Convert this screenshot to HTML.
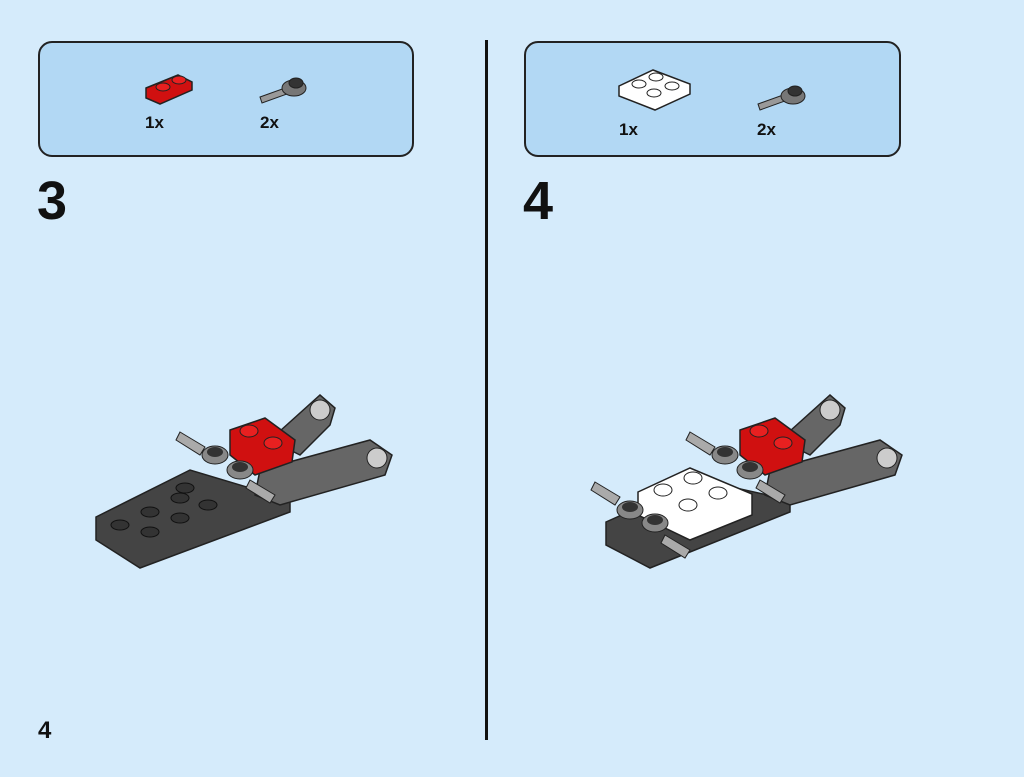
<!DOCTYPE html>
<html><head><meta charset="utf-8"><style>
html,body{margin:0;padding:0;}
body{width:1024px;height:777px;background:#d5ebfb;position:relative;overflow:hidden;font-family:"Liberation Sans",sans-serif;}
.panel{position:absolute;background:#b2d8f4;border:2px solid #222;border-radius:14px;box-sizing:border-box;}
.lbl{position:absolute;font-weight:bold;font-size:17px;color:#111;}
.step{position:absolute;font-weight:bold;font-size:54px;color:#111;}
</style></head><body>
<div class="panel" style="left:38px;top:41px;width:376px;height:116px"></div>
<div class="panel" style="left:524px;top:41px;width:377px;height:116px"></div>
<div style="position:absolute;left:485px;top:40px;width:3px;height:700px;background:#111"></div>
<div class="lbl" style="left:145px;top:113px">1x</div>
<div class="lbl" style="left:260px;top:113px">2x</div>
<div class="lbl" style="left:619px;top:120px">1x</div>
<div class="lbl" style="left:757px;top:120px">2x</div>
<div class="step" style="left:37px;top:170px">3</div>
<div class="step" style="left:523px;top:170px">4</div>
<div class="lbl" style="left:38px;top:717px;font-size:24px">4</div>
<svg width="1024" height="777" style="position:absolute;left:0;top:0">
<g>
<path d="M146 88 L178 75 L192 82 L192 90 L160 104 L146 98Z" fill="#d01010" stroke="#222" stroke-width="1.5"/>
<ellipse cx="163" cy="87" rx="7" ry="4" fill="#e82020" stroke="#222"/><ellipse cx="179" cy="80" rx="7" ry="4" fill="#e82020" stroke="#222"/>
</g>
<g>
<path d="M260 97 L285 88 L287 94 L262 103Z" fill="#999" stroke="#222"/>
<ellipse cx="294" cy="88" rx="12" ry="8" fill="#777" stroke="#222"/><ellipse cx="296" cy="83" rx="7" ry="5" fill="#333" stroke="#222"/>
</g>
<g>
<path d="M619 86 L653 70 L690 84 L690 94 L655 110 L619 96Z" fill="#fff" stroke="#222" stroke-width="1.5"/>
<ellipse cx="639" cy="84" rx="7" ry="4" fill="#fff" stroke="#222"/><ellipse cx="656" cy="77" rx="7" ry="4" fill="#fff" stroke="#222"/>
<ellipse cx="654" cy="93" rx="7" ry="4" fill="#fff" stroke="#222"/><ellipse cx="672" cy="86" rx="7" ry="4" fill="#fff" stroke="#222"/>
</g>
<g>
<path d="M758 104 L783 95 L785 101 L760 110Z" fill="#999" stroke="#222"/>
<ellipse cx="793" cy="96" rx="12" ry="8" fill="#777" stroke="#222"/><ellipse cx="795" cy="91" rx="7" ry="5" fill="#333" stroke="#222"/>
</g>
<g>
<path d="M96 517 L190 470 L290 500 L290 512 L140 568 L96 540Z" fill="#444" stroke="#222" stroke-width="1.5"/>
<path d="M270 440 L320 395 L335 408 L330 425 L300 455Z" fill="#666" stroke="#222" stroke-width="1.5"/>
<path d="M260 470 L370 440 L392 455 L385 475 L280 505 L255 495Z" fill="#666" stroke="#222" stroke-width="1.5"/>
<circle cx="320" cy="410" r="10" fill="#ccc" stroke="#222"/><circle cx="377" cy="458" r="10" fill="#ccc" stroke="#222"/>
<path d="M230 430 L265 418 L295 440 L292 462 L255 475 L230 455Z" fill="#d01010" stroke="#222" stroke-width="1.5"/>
<ellipse cx="249" cy="431" rx="9" ry="6" fill="#e82020" stroke="#222"/><ellipse cx="273" cy="443" rx="9" ry="6" fill="#e82020" stroke="#222"/>
<ellipse cx="215" cy="455" rx="13" ry="9" fill="#888" stroke="#222"/><ellipse cx="240" cy="470" rx="13" ry="9" fill="#888" stroke="#222"/>
<ellipse cx="215" cy="452" rx="8" ry="5" fill="#333"/><ellipse cx="240" cy="467" rx="8" ry="5" fill="#333"/>
<path d="M180 432 L205 447 L200 455 L176 440Z" fill="#aaa" stroke="#222"/><path d="M250 480 L275 495 L270 503 L246 488Z" fill="#aaa" stroke="#222"/>
<g fill="#333" stroke="#111"><ellipse cx="120" cy="525" rx="9" ry="5"/><ellipse cx="150" cy="512" rx="9" ry="5"/><ellipse cx="180" cy="498" rx="9" ry="5"/><ellipse cx="150" cy="532" rx="9" ry="5"/><ellipse cx="180" cy="518" rx="9" ry="5"/><ellipse cx="208" cy="505" rx="9" ry="5"/><ellipse cx="185" cy="488" rx="9" ry="5"/></g>
</g>
<g>
<path d="M606 522 L700 480 L790 500 L790 512 L650 568 L606 545Z" fill="#444" stroke="#222" stroke-width="1.5"/>
<path d="M780 440 L830 395 L845 408 L840 425 L810 455Z" fill="#666" stroke="#222" stroke-width="1.5"/>
<path d="M770 470 L880 440 L902 455 L895 475 L790 505 L765 495Z" fill="#666" stroke="#222" stroke-width="1.5"/>
<circle cx="830" cy="410" r="10" fill="#ccc" stroke="#222"/><circle cx="887" cy="458" r="10" fill="#ccc" stroke="#222"/>
<path d="M740 430 L775 418 L805 440 L802 462 L765 475 L740 455Z" fill="#d01010" stroke="#222" stroke-width="1.5"/>
<ellipse cx="759" cy="431" rx="9" ry="6" fill="#e82020" stroke="#222"/><ellipse cx="783" cy="443" rx="9" ry="6" fill="#e82020" stroke="#222"/>
<path d="M638 492 L690 468 L752 494 L752 515 L690 540 L638 515Z" fill="#fff" stroke="#222" stroke-width="1.5"/>
<g fill="#fff" stroke="#222"><ellipse cx="663" cy="490" rx="9" ry="6"/><ellipse cx="693" cy="478" rx="9" ry="6"/><ellipse cx="688" cy="505" rx="9" ry="6"/><ellipse cx="718" cy="493" rx="9" ry="6"/></g>
<ellipse cx="725" cy="455" rx="13" ry="9" fill="#888" stroke="#222"/><ellipse cx="750" cy="470" rx="13" ry="9" fill="#888" stroke="#222"/>
<ellipse cx="630" cy="510" rx="13" ry="9" fill="#888" stroke="#222"/><ellipse cx="655" cy="523" rx="13" ry="9" fill="#888" stroke="#222"/>
<g fill="#333"><ellipse cx="725" cy="452" rx="8" ry="5"/><ellipse cx="750" cy="467" rx="8" ry="5"/><ellipse cx="630" cy="507" rx="8" ry="5"/><ellipse cx="655" cy="520" rx="8" ry="5"/></g>
<path d="M690 432 L715 447 L710 455 L686 440Z" fill="#aaa" stroke="#222"/><path d="M760 480 L785 495 L780 503 L756 488Z" fill="#aaa" stroke="#222"/>
<path d="M595 482 L620 497 L615 505 L591 490Z" fill="#aaa" stroke="#222"/><path d="M665 535 L690 550 L685 558 L661 543Z" fill="#aaa" stroke="#222"/>
</g>
</svg>
</body></html>
